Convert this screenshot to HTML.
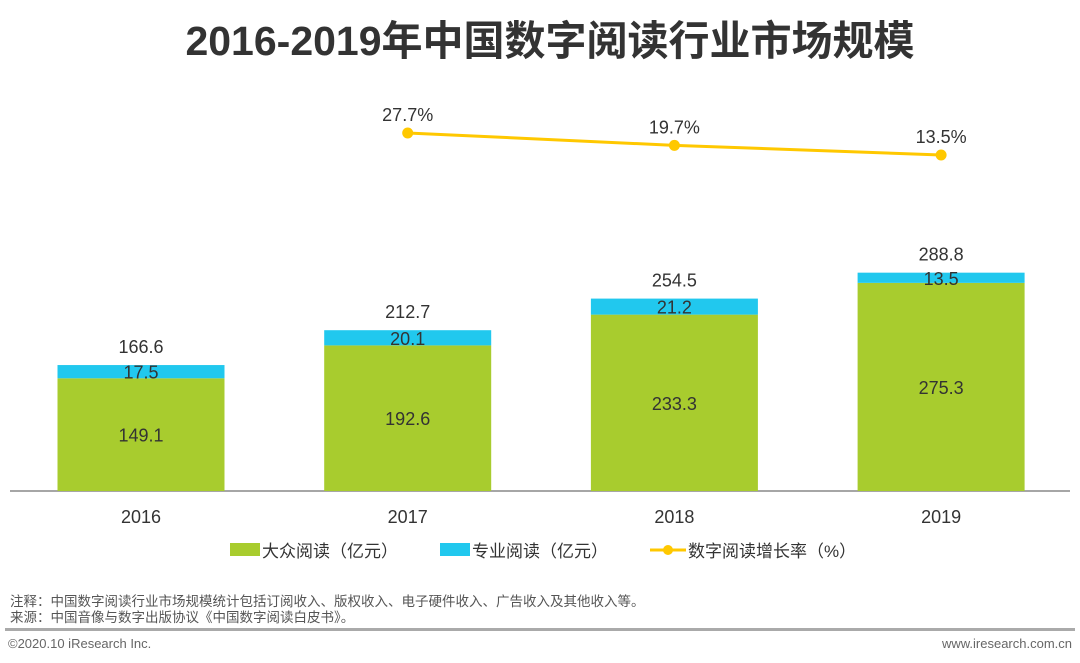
<!DOCTYPE html>
<html><head><meta charset="utf-8"><style>
body{margin:0;width:1080px;height:663px;background:#fff;overflow:hidden;font-family:"Liberation Sans","Noto Sans CJK SC",sans-serif}
svg{display:block}
</style></head><body>
<svg id="c" width="1080" height="663" font-family="Liberation Sans, Noto Sans CJK SC, sans-serif">
<text x="550" y="55" text-anchor="middle" font-size="41" font-weight="bold" fill="#333">2016-2019年中国数字阅读行业市场规模</text>
<line x1="10" y1="491" x2="1070" y2="491" stroke="#888" stroke-width="1.5"/>
<g id="bars"></g>
<g id="line"></g>
<g>
<g><rect x="230" y="543" width="30" height="13" fill="#a8cc2e"/><text x="262" y="557" font-size="17" fill="#333">大众阅读（亿元）</text></g>
<g><rect x="440" y="543" width="30" height="13" fill="#21c8ee"/><text x="472" y="557" font-size="17" fill="#333">专业阅读（亿元）</text></g>
<g><line x1="650" y1="550" x2="686" y2="550" stroke="#ffc800" stroke-width="3"/><circle cx="668" cy="550" r="5" fill="#ffc800"/><text x="688" y="557" font-size="17" fill="#333">数字阅读增长率（%）</text></g>
</g>
<text x="10" y="606" font-size="13.5" fill="#555">注释：中国数字阅读行业市场规模统计包括订阅收入、版权收入、电子硬件收入、广告收入及其他收入等。</text>
<text x="10" y="622" font-size="13.5" fill="#555">来源：中国音像与数字出版协议《中国数字阅读白皮书》。</text>
<rect x="5" y="628" width="1070" height="3" fill="#aaa"/>
<text x="8" y="648" font-size="13" fill="#666">©2020.10 iResearch Inc.</text>
<text x="1072" y="648" font-size="13" fill="#666" text-anchor="end">www.iresearch.com.cn</text>
</svg>
<script>
const years=["2016","2017","2018","2019"];
const massValues=[149.1,192.6,233.3,275.3];
const proValues=[17.5,20.1,21.2,13.5];
const totals=[166.6,212.7,254.5,288.8];
const growthYears=["2017","2018","2019"];
const growthValues=[27.7,19.7,13.5];
const NS="http://www.w3.org/2000/svg";
const x=i=>141+i*266.7;
const y=v=>491-v*0.756;
const yl=v=>175.9-v*1.55;
function mk(t,a,p,txt){const e=document.createElementNS(NS,t);for(const k in a)e.setAttribute(k,a[k]);if(txt!==undefined)e.textContent=txt;p.appendChild(e);return e;}
const bars=document.getElementById('bars');
years.forEach((yr,i)=>{
 const cx=x(i),w=167;
 const g=mk('rect',{x:cx-w/2,y:y(massValues[i]),width:w,height:491-y(massValues[i]),fill:'#a8cc2e'},bars);
 
 
 const b=mk('rect',{x:cx-w/2,y:y(massValues[i]+proValues[i]),width:w,height:y(massValues[i])-y(massValues[i]+proValues[i]),fill:'#21c8ee'},bars);
 
 
 const t1=mk('text',{x:cx,y:(491+y(massValues[i]))/2+7,'text-anchor':'middle','font-size':18,fill:'#333'},bars,massValues[i].toFixed(1));
 
 
 const t2=mk('text',{x:cx,y:(y(massValues[i])+y(massValues[i]+proValues[i]))/2+7,'text-anchor':'middle','font-size':18,fill:'#333'},bars,proValues[i].toFixed(1));
 
 
 const t3=mk('text',{x:cx,y:y(totals[i])-12,'text-anchor':'middle','font-size':18,fill:'#333'},bars,totals[i].toFixed(1));
 
 
 const t4=mk('text',{x:cx,y:523,'text-anchor':'middle','font-size':18,fill:'#333'},bars,yr);
 
 
});
const lg=document.getElementById('line');
const pts=growthValues.map((v,i)=>[x(years.indexOf(growthYears[i])),yl(v)]);
const pl=mk('polyline',{points:pts.map(p=>p.join(',')).join(' '),fill:'none',stroke:'#ffc800','stroke-width':3},lg);


pts.forEach((p,i)=>{
 const c=mk('circle',{cx:p[0],cy:p[1],r:5.5,fill:'#ffc800'},lg);
 
 
 const t=mk('text',{x:p[0],y:p[1]-12,'text-anchor':'middle','font-size':18,fill:'#333'},lg,growthValues[i].toFixed(1)+'%');
 
 
});
</script>
</body></html>
